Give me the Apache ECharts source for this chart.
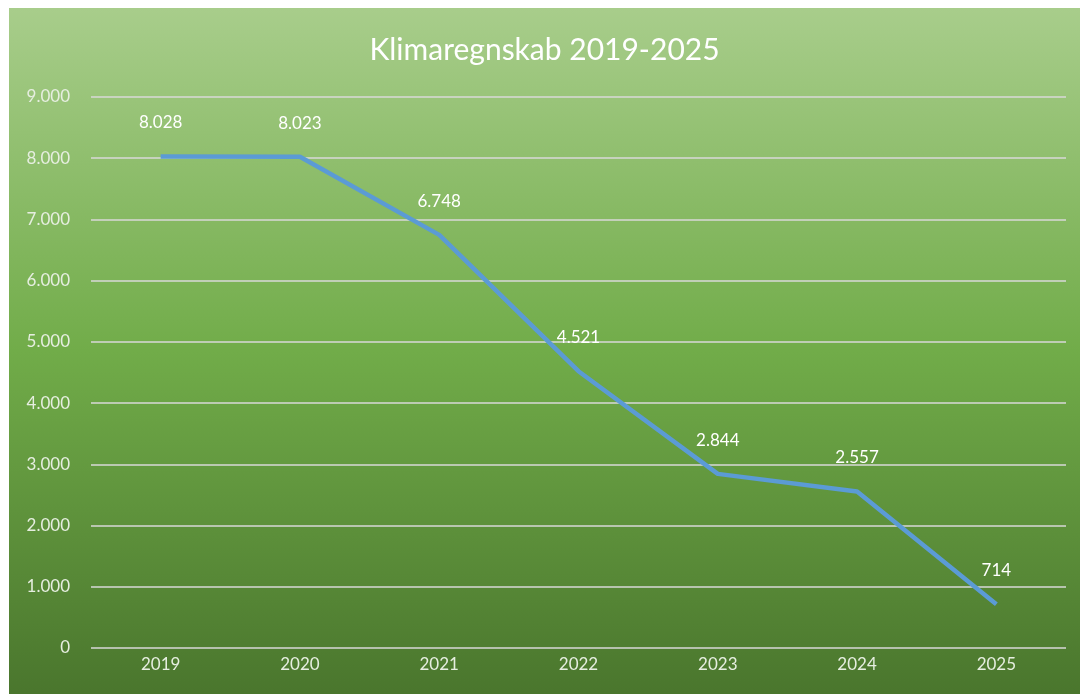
<!DOCTYPE html>
<html>
<head>
<meta charset="utf-8">
<script src="https://cdn.jsdelivr.net/npm/echarts@6/dist/echarts.min.js"></script>
<style>
  html, body { margin: 0; padding: 0; background: #fff; }
  #main { position: absolute; left: 9px; top: 8px; width: 1071px; height: 686px; }
</style>
</head>
<body>
<div id="main"></div>
<script>
// data
const years = ['2019', '2020', '2021', '2022', '2023', '2024', '2025']
const emissions = [8028, 8023, 6748, 4521, 2844, 2557, 714]

// dansk tusindtalsseparator
const fmt = v => String(v).replace(/\B(?=(\d{3})+(?!\d))/g, '.')

const chart = echarts.init(document.getElementById('main'))

chart.setOption({
  backgroundColor: new echarts.graphic.LinearGradient(0, 0, 0, 1, [
    { offset: 0, color: '#a8cd8b' },
    { offset: 0.5, color: '#71ac49' },
    { offset: 1, color: '#4a762d' }
  ]),
  textStyle: { fontFamily: 'Lato' },
  title: {
    text: 'Klimaregnskab 2019-2025',
    left: 'center',
    top: 22,
    textStyle: { color: '#ffffff', fontSize: 30, fontWeight: 'normal', fontFamily: 'Lato' }
  },
  grid: { left: 82, right: 14, top: 89, bottom: 46 },
  xAxis: {
    type: 'category',
    data: years,
    boundaryGap: true,
    axisLine: { show: false },
    axisTick: { show: false },
    axisLabel: { color: '#e6eee0', fontSize: 17, margin: 8 }
  },
  yAxis: {
    type: 'value',
    min: 0,
    max: 9000,
    interval: 1000,
    axisLine: { show: false },
    axisTick: { show: false },
    axisLabel: { color: '#e6eee0', fontSize: 17, margin: 21, formatter: fmt },
    splitLine: { lineStyle: { color: '#d9d9d9', width: 1.5 } }
  },
  series: [
    {
      type: 'line',
      data: emissions,
      symbol: 'circle',
      symbolSize: 2,
      showSymbol: true,
      itemStyle: { color: 'rgba(0,0,0,0)', borderWidth: 0 },
      lineStyle: { color: '#5b9bd5', width: 4.5 },
      label: {
        show: true,
        position: 'top',
        distance: 24,
        color: '#ffffff',
        fontSize: 17,
        formatter: p => fmt(p.value)
      }
    }
  ]
})
</script>
</body>
</html>
